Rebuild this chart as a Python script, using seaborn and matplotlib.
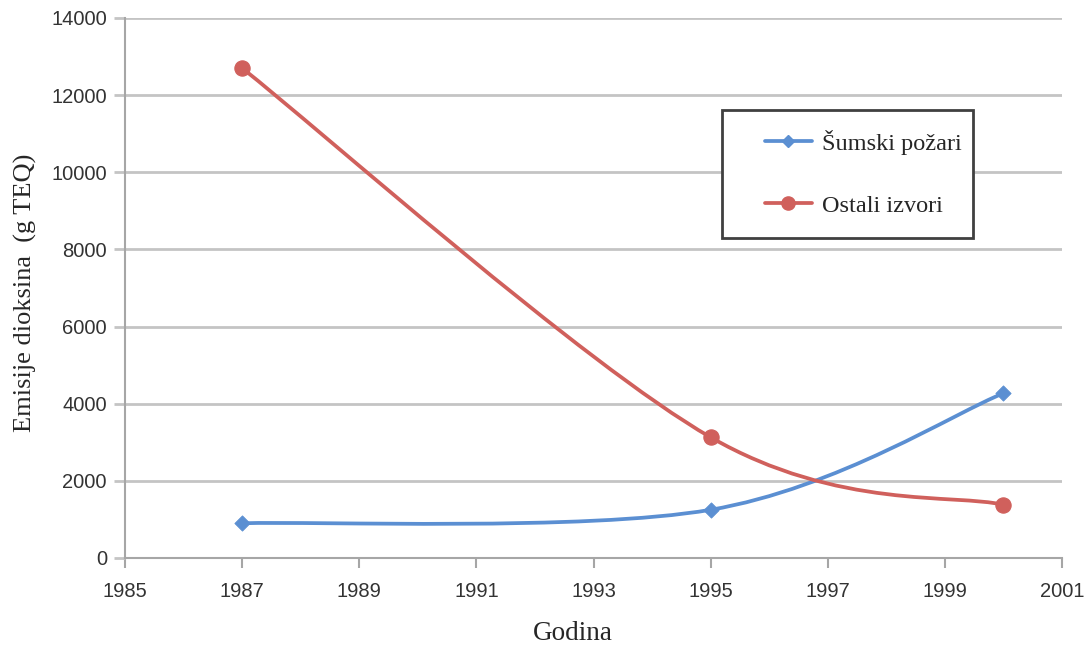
import numpy as np
import matplotlib
matplotlib.use("Agg")
import matplotlib.pyplot as plt
import seaborn as sns
from matplotlib.path import Path
from matplotlib.patches import PathPatch, Rectangle
from matplotlib.lines import Line2D

# data
years = [1987, 1995, 2000]
sumski = [900, 1250, 4270]
ostali = [12700, 3130, 1380]
series_names = ["Šumski požari", "Ostali izvori"]
blue = "#5B8FD2"
red = "#D0605C"

sns.set_style("white")
plt.rcParams['font.family'] = ['Liberation Sans', 'DejaVu Sans']

fig = plt.figure(figsize=(10.92, 6.45), dpi=100)
ax = fig.add_axes([0.1145, 0.1349, 0.858, 0.8372])
ax.set_xlim(1985, 2001)
ax.set_ylim(0, 14000)

# approx pixel size of the axes, used for Excel-like smoothing
W, H = 937.0, 540.0


def smooth_path(xs, ys):
    # Catmull-Rom style bezier, as Excel's "smoothed line"
    px = [(x - 1985) / 16 * W for x in xs]
    py = [y / 14000 * H for y in ys]
    pts = list(zip(px, py))
    n = len(pts)
    verts = [pts[0]]
    codes = [Path.MOVETO]
    for i in range(n - 1):
        p0 = pts[i - 1] if i > 0 else pts[i]
        p1 = pts[i]
        p2 = pts[i + 1]
        p3 = pts[i + 2] if i + 2 < n else pts[i + 1]
        c1 = (p1[0] + (p2[0] - p0[0]) / 6, p1[1] + (p2[1] - p0[1]) / 6)
        c2 = (p2[0] - (p3[0] - p1[0]) / 6, p2[1] - (p3[1] - p1[1]) / 6)
        verts += [c1, c2, p2]
        codes += [Path.CURVE4] * 3
    verts = [(1985 + v[0] / W * 16, v[1] / H * 14000) for v in verts]
    return Path(verts, codes)


for vals, col in [(sumski, blue), (ostali, red)]:
    ax.add_patch(PathPatch(smooth_path(years, vals), facecolor="none",
                           edgecolor=col, lw=2.7, zorder=3, capstyle="round"))

sns.scatterplot(x=years, y=sumski, marker="D", s=60, color=blue,
                edgecolor=blue, ax=ax, zorder=4)
sns.scatterplot(x=years, y=ostali, marker="o", s=120, color=red,
                edgecolor=red, ax=ax, zorder=4)

# axes styling
ax.set_xticks(range(1985, 2002, 2))
ax.set_yticks(range(0, 14001, 2000))
ax.grid(axis="y", color="#C4C4C4", lw=2)
ax.grid(axis="x", visible=False)
ax.set_axisbelow(True)
for s in ["top", "right"]:
    ax.spines[s].set_visible(False)
for s in ["left", "bottom"]:
    ax.spines[s].set_color("#A6A6A6")
    ax.spines[s].set_linewidth(1.5)
ax.tick_params(axis="y", length=8, width=2, color="#C4C4C4", labelsize=14.5,
               labelcolor="#333333", pad=5, left=True)
ax.tick_params(axis="x", length=7, width=1.5, color="#A6A6A6", labelsize=14.5,
               labelcolor="#333333", pad=10, bottom=True, direction="out")

ax.set_xlabel("Godina", family="Liberation Serif", fontsize=19.5, va="center")
ax.set_ylabel("Emisije dioksina  (g TEQ)", family="Liberation Serif",
              fontsize=19, va="center")
ax.xaxis.set_label_coords(0.478, -0.139)
ax.yaxis.set_label_coords(-0.106, 0.491)

# legend box
ax.add_patch(Rectangle(((722 - 125) / W, (558 - 238) / H), 251 / W, 128 / H,
                       transform=ax.transAxes, facecolor="white",
                       edgecolor="#404040", lw=2, zorder=5))
handles = [Line2D([], [], color=blue, lw=2.7, marker="D", markersize=6),
           Line2D([], [], color=red, lw=2.7, marker="o", markersize=9.5)]
leg = ax.legend(handles, series_names, loc="upper left",
                bbox_to_anchor=((765 - 125) / W, (558 - 130) / H),
                frameon=False, borderpad=0, borderaxespad=0,
                handlelength=1.93, handletextpad=0.4, labelspacing=1.63,
                prop={"family": "Liberation Serif", "size": 17.5})
leg.set_zorder(6)

fig.savefig("out.png", dpi=100)
